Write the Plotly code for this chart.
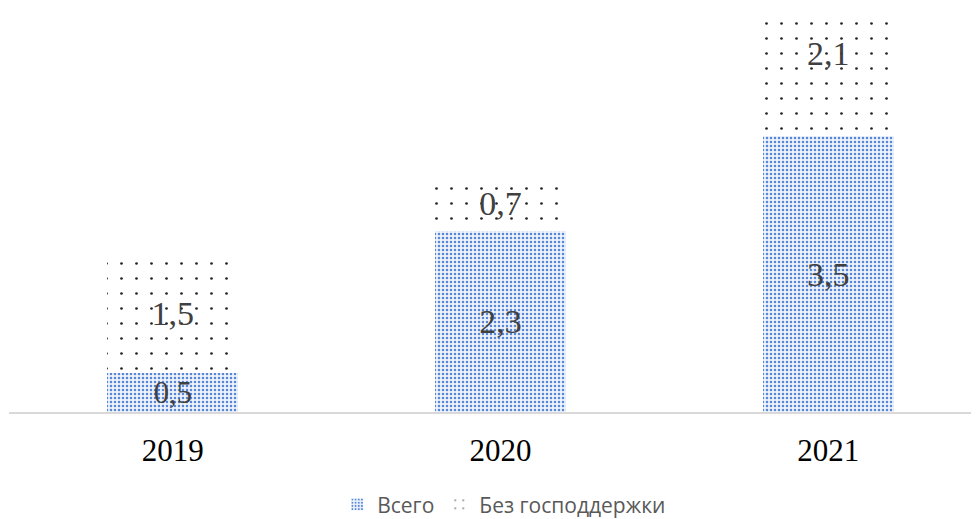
import plotly.graph_objects as go

years = ["2019", "2020", "2021"]
vsego = [0.5, 2.3, 3.5]
bez_gospodderzhki = [1.5, 0.7, 2.1]

SERIF = "Liberation Serif, Times New Roman, serif"
SANS = "Open Sans, Noto Sans, sans-serif"

# the page body has an 8px margin, so the figure is sized to fit the window
W, H = 971, 511

fig = go.Figure()

# bottom segment: dense blue dots
fig.add_trace(go.Bar(
    x=years, y=vsego,
    name="Всего",
    width=0.4,
    marker=dict(
        color="#eef3fb",
        line=dict(width=0),
        pattern=dict(shape=".", fgcolor="#5686d8", bgcolor="#eef3fb",
                     size=4, solidity=0.32, fillmode="replace"),
    ),
    texttemplate="%{y:.1f}",
    textposition="inside",
    insidetextanchor="middle",
    textangle=0,
    textfont=dict(family=SERIF, size=34, color="#404040"),
))

# top segment: sparse black dots
fig.add_trace(go.Bar(
    x=years, y=bez_gospodderzhki,
    name="Без господдержки",
    width=0.4,
    marker=dict(
        color="white",
        line=dict(width=0),
        pattern=dict(shape=".", fgcolor="#222222", bgcolor="white",
                     size=15, solidity=0.025, fillmode="replace"),
    ),
    texttemplate="%{y:.1f}",
    textposition="inside",
    insidetextanchor="middle",
    textangle=0,
    textfont=dict(family=SERIF, size=34, color="#404040"),
))

fig.update_layout(
    width=W, height=H,
    barmode="stack",
    separators=", ",
    paper_bgcolor="white",
    plot_bgcolor="white",
    margin=dict(l=1, r=0, t=8, b=107, autoexpand=False),
    showlegend=True,
    legend=dict(
        orientation="h",
        traceorder="normal",
        x=0.511, xanchor="center",
        xref="container",
        y=0.028, yanchor="middle",
        yref="container",
        font=dict(family=SANS, size=21, color="#595959"),
        itemwidth=30,
        bgcolor="rgba(0,0,0,0)",
    ),
)

fig.update_xaxes(
    type="category",
    range=[-0.5, 2.46],
    showline=True, linecolor="#d9d9d9", linewidth=1.5,
    showgrid=False, zeroline=False,
    ticks="",
    ticklabelstandoff=10,
    tickfont=dict(family=SERIF, size=31, color="black"),
)
fig.update_yaxes(
    range=[0, 5.03],
    visible=False,
    showgrid=False, zeroline=False,
)

fig.write_html("out.html")
